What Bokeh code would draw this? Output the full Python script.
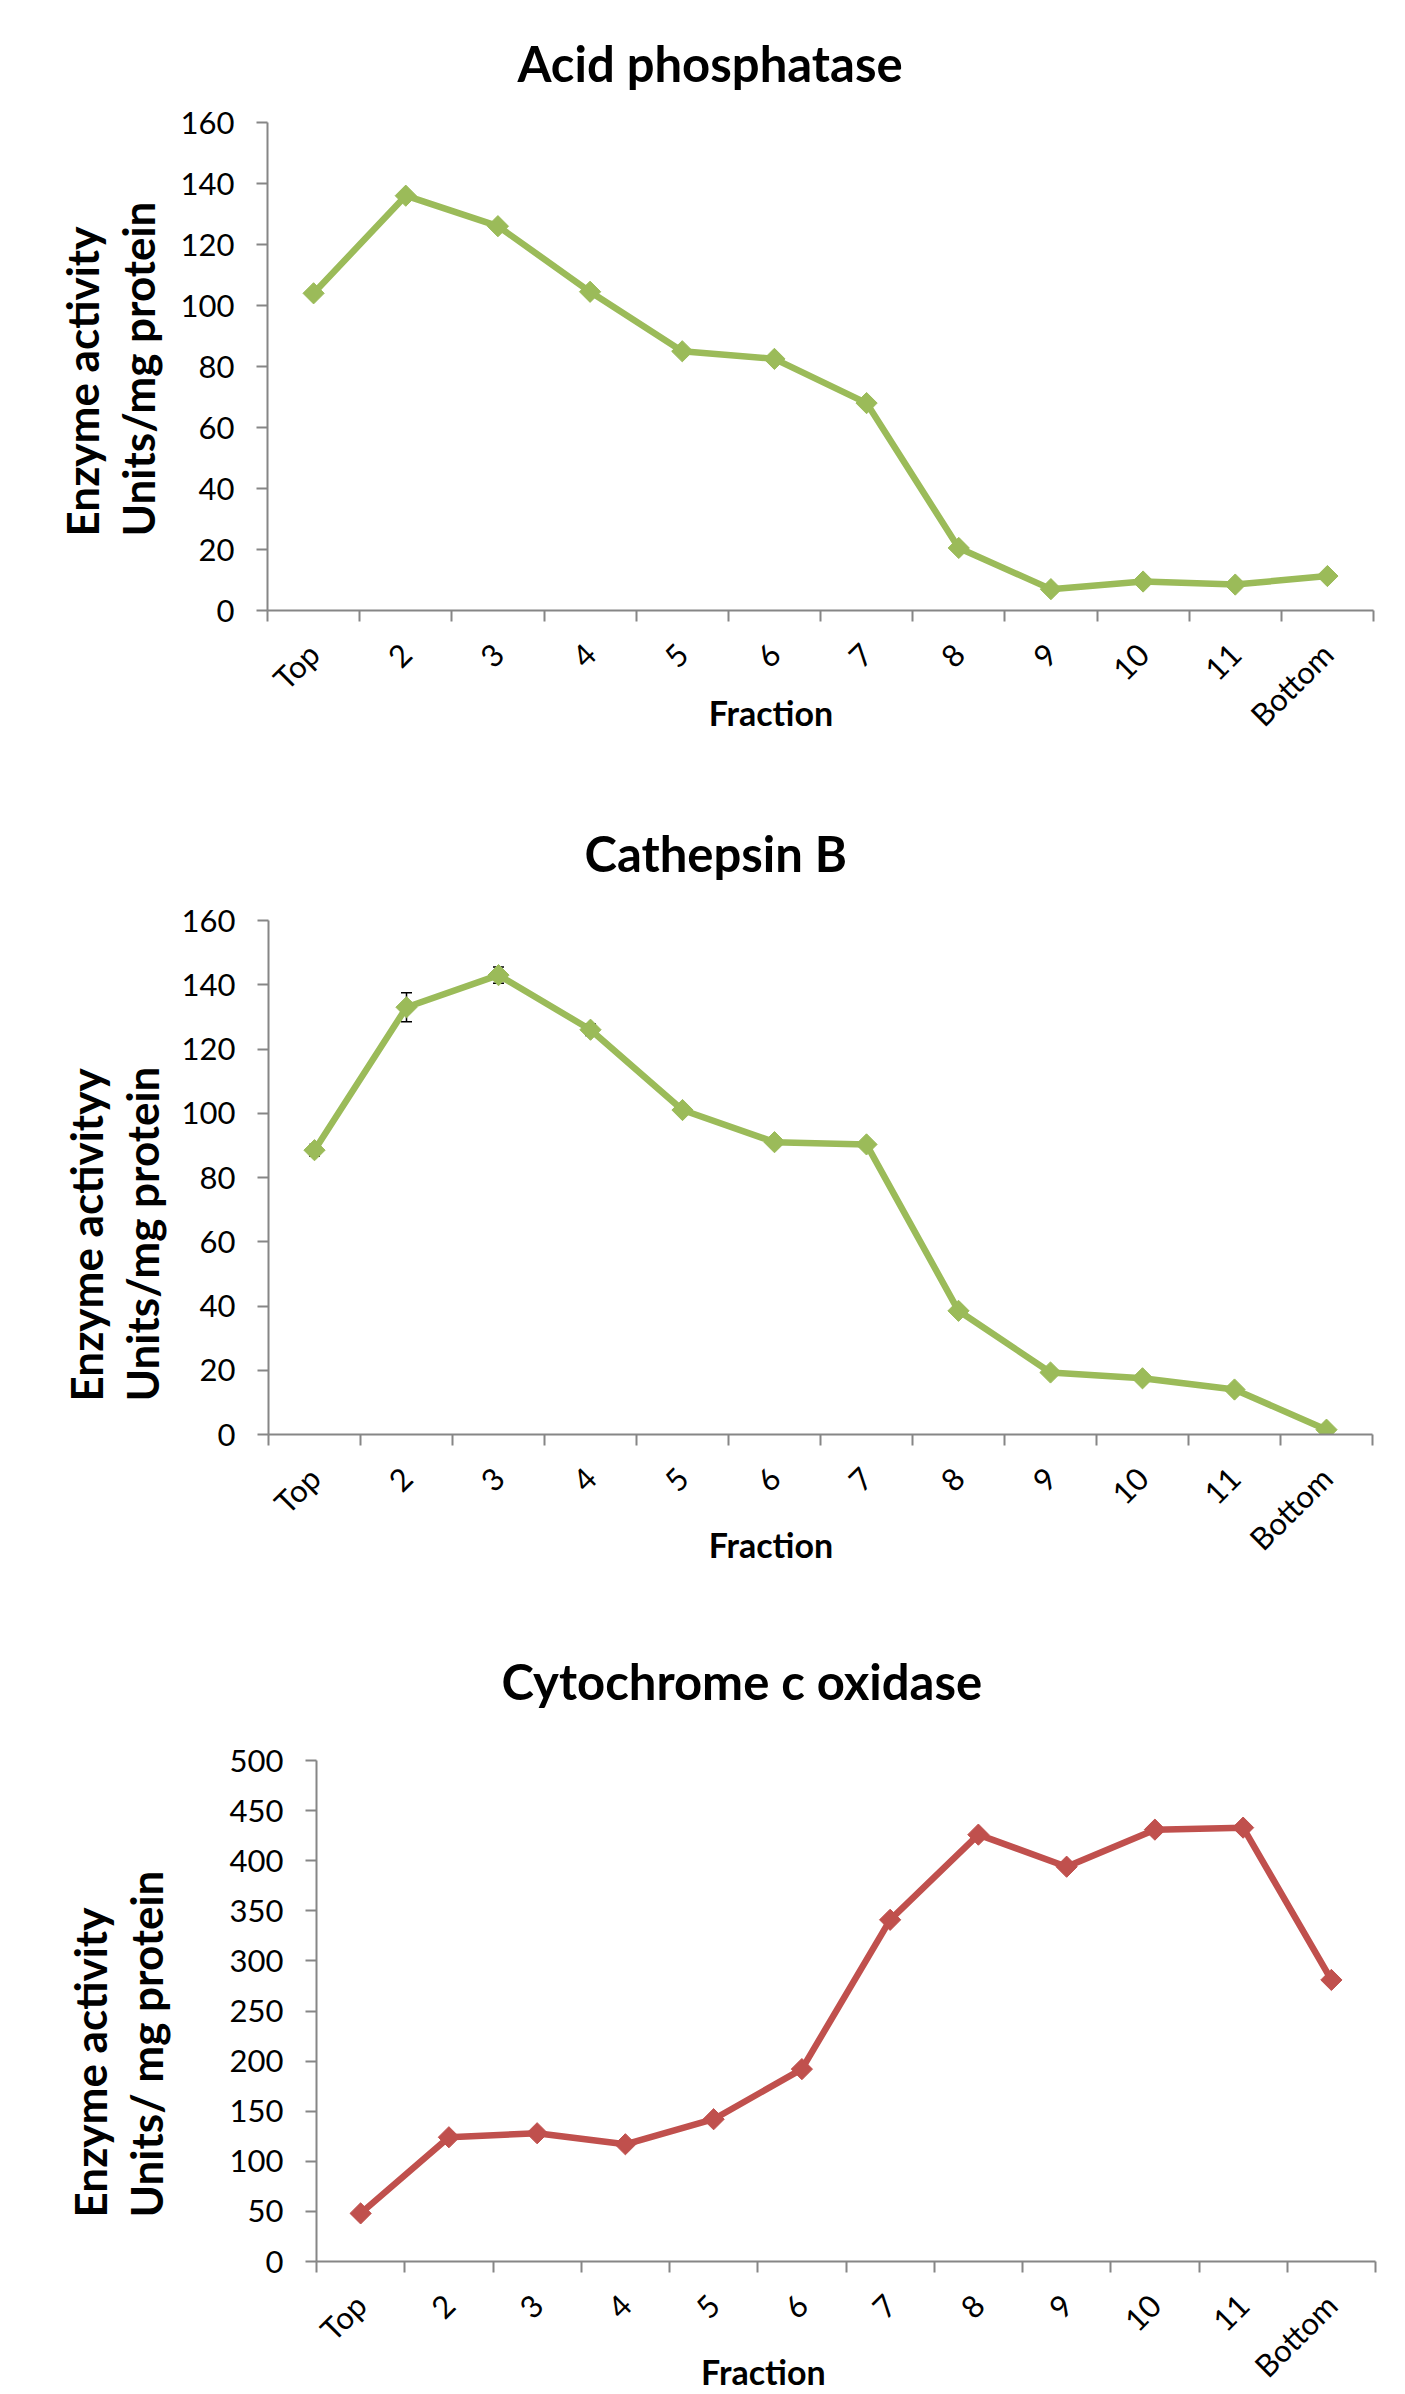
import math
from bokeh.plotting import figure
from bokeh.models import (Range1d, LinearAxis, FixedTicker, Title,
                          SingleIntervalTicker, ColumnDataSource, Whisker, TeeHead)
from bokeh.layouts import column
from bokeh.embed import file_html
from bokeh.resources import INLINE

# ---------------- data ----------------
fractions = ["Top", "2", "3", "4", "5", "6", "7", "8", "9", "10", "11", "Bottom"]

acid_phosphatase = [104, 136, 126, 104.5, 85, 82.5, 68, 20.5, 7, 9.5, 8.5, 11.3]

cathepsin_b = [88.5, 133, 143, 126, 101, 91, 90.3, 38.5, 19.3, 17.5, 14, 1.5]
cathepsin_b_err = [1.8, 4.5, 2.5, 1.8, 0, 0, 0, 0, 0, 0, 0, 0]

cytochrome_c_oxidase = [48, 124, 128, 117, 142, 192, 341, 426, 394, 431, 433, 281]

titles = ["Acid phosphatase", "Cathepsin B", "Cytochrome c oxidase"]
ylabels = ["Enzyme activity\nUnits/mg protein",
           "Enzyme activityy\nUnits/mg protein",
           "Enzyme activity\nUnits/ mg protein"]
xlabel = "Fraction"

GREEN = "#9BBB59"
RED = "#C0504D"
AXIS = "#868686"
FONT = "Lato"
NBSP = "\u00a0"

N = len(fractions)
slot_centres = [i + 0.5 for i in range(N)]      # category slot centres
slot_edges = list(range(N + 1))                  # category slot boundaries


def panel(title, values, color, ymax, interval, ylab, err=None, *,
          height, b_left, b_right, b_top, b_bottom,
          t_offset, t_standoff, yl_offset, yl_standoff, xstand, xl_standoff, xl_pad):
    p = figure(width=1405, height=height,
               x_range=Range1d(0, N),
               y_range=Range1d(0, ymax),
               x_axis_location=None,
               output_backend="svg", toolbar_location=None,
               min_border_left=b_left, min_border_right=b_right,
               min_border_top=b_top, min_border_bottom=b_bottom)
    p.frame_align = False
    p.outline_line_color = None
    p.xgrid.visible = False
    p.ygrid.visible = False
    p.background_fill_color = "white"
    p.border_fill_color = "white"

    # title
    p.title.text = title
    p.title.align = "left"
    p.title.offset = t_offset
    p.title.standoff = t_standoff
    p.title.text_font = FONT
    p.title.text_font_style = "bold"
    p.title.text_font_size = "49px"
    p.title.text_color = "black"

    # y axis
    ya = p.yaxis[0]
    ya.ticker = SingleIntervalTicker(interval=interval, num_minor_ticks=0)
    ya.axis_line_color = AXIS
    ya.axis_line_width = 2
    ya.major_tick_line_color = AXIS
    ya.major_tick_line_width = 2
    ya.major_tick_in = 0
    ya.major_tick_out = 11
    ya.minor_tick_line_color = None
    ya.major_label_text_font = FONT
    ya.major_label_text_font_size = "31px"
    ya.major_label_text_color = "black"
    ya.major_label_standoff = 22

    # two-line y label
    p.add_layout(Title(text=ylab, align="left", offset=yl_offset, standoff=yl_standoff,
                       text_font=FONT, text_font_style="bold", text_font_size="44px",
                       text_color="black", text_line_height=1.08), "left")

    # x axis: ticks between categories, labels at category centres
    xa = LinearAxis(ticker=FixedTicker(ticks=slot_centres, minor_ticks=slot_edges))
    xa.major_label_overrides = {c: f for c, f in zip(slot_centres, fractions)}
    xa.axis_line_color = AXIS
    xa.axis_line_width = 2
    xa.major_tick_line_color = None
    xa.major_tick_in = 0
    xa.major_tick_out = 11
    xa.minor_tick_line_color = AXIS
    xa.minor_tick_line_width = 2
    xa.minor_tick_in = 0
    xa.minor_tick_out = 11
    xa.major_label_orientation = math.pi / 4
    xa.major_label_text_font = FONT
    xa.major_label_text_font_size = "31px"
    xa.major_label_text_color = "black"
    xa.major_label_standoff = xstand
    xa.axis_label = xlabel + NBSP * xl_pad
    xa.axis_label_text_font = FONT
    xa.axis_label_text_font_style = "bold"
    xa.axis_label_text_font_size = "34px"
    xa.axis_label_text_color = "black"
    xa.axis_label_standoff = xl_standoff
    p.add_layout(xa, "below")

    src = ColumnDataSource(dict(x=slot_centres, y=values, name=fractions))
    if err is not None:
        src.data["upper"] = [v + e for v, e in zip(values, err)]
        src.data["lower"] = [v - e for v, e in zip(values, err)]
        w = Whisker(base="x", upper="upper", lower="lower", source=src,
                    line_color="black", line_width=1.5,
                    upper_head=TeeHead(size=11, line_color="black", line_width=1.5),
                    lower_head=TeeHead(size=11, line_color="black", line_width=1.5))
        p.add_layout(w)

    p.line("x", "y", source=src, line_color=color, line_width=6.5, line_join="round")
    p.scatter("x", "y", source=src, marker="square", angle=math.pi / 4, size=15,
              fill_color=color, line_color=color)
    return p


p1 = panel(titles[0], acid_phosphatase, GREEN, 160, 20, ylabels[0],
           height=782, b_left=267, b_right=32, b_top=121, b_bottom=172,
           t_offset=250, t_standoff=62, yl_offset=74, yl_standoff=26,
           xstand=27, xl_standoff=-58, xl_pad=12)
p2 = panel(titles[1], cathepsin_b, GREEN, 160, 20, ylabels[1], err=cathepsin_b_err,
           height=817, b_left=268, b_right=33, b_top=137, b_bottom=165,
           t_offset=316, t_standoff=78, yl_offset=33, yl_standoff=21,
           xstand=27, xl_standoff=-50, xl_pad=12)
p3 = panel(titles[2], cytochrome_c_oxidase, RED, 500, 50, ylabels[2],
           height=795, b_left=316, b_right=30, b_top=160, b_bottom=129,
           t_offset=185, t_standoff=101, yl_offset=44, yl_standoff=109,
           xstand=27, xl_standoff=-50, xl_pad=20)

layout = column(p1, p2, p3, spacing=0)

with open("out.html", "w") as f:
    f.write(file_html(layout, INLINE))
